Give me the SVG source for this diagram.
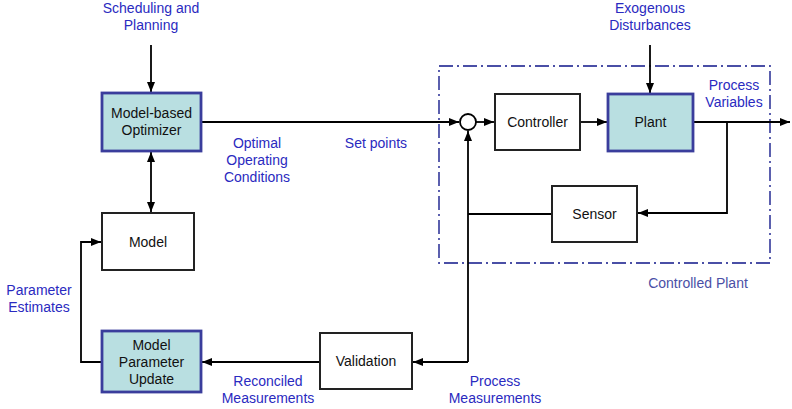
<svg xmlns="http://www.w3.org/2000/svg" width="792" height="409" viewBox="0 0 792 409">
<defs>
<marker id="ah" viewBox="0 0 10 8" refX="10" refY="4" markerWidth="10" markerHeight="8" markerUnits="userSpaceOnUse" orient="auto-start-reverse">
<path d="M0,0 L10,4 L0,8 Z" fill="#000"/>
</marker>
<style>
.blk{fill:#fff;stroke:#222;stroke-width:2}
.hl{fill:#b9dfe1;stroke:#3a3d9c;stroke-width:2.8}
.t{font-family:"Liberation Sans",Arial,sans-serif;font-size:14px;fill:#111;text-anchor:middle}
.lb{font-family:"Liberation Sans",Arial,sans-serif;font-size:14px;fill:#2a2ac0;text-anchor:middle}
.ln{fill:none;stroke:#000;stroke-width:1.8}
</style>
</defs>
<rect width="792" height="409" fill="#fff"/>
<g id="controlled-plant">
<rect x="439" y="66" width="331" height="197" fill="none" stroke="#4a4fa6" stroke-width="1.8" stroke-dasharray="14,4,2,4"/>
<text class="lb" x="698" y="288" style="fill:#4a4fa6">Controlled Plant</text>
</g>
<g id="connectors">
<path class="ln" d="M151,45 V92" marker-end="url(#ah)"/>
<path class="ln" d="M151,152 V212" marker-start="url(#ah)" marker-end="url(#ah)"/>
<path class="ln" d="M201,122 H459" marker-end="url(#ah)"/>
<path class="ln" d="M476,122 H494" marker-end="url(#ah)"/>
<path class="ln" d="M580,122 H607" marker-end="url(#ah)"/>
<path class="ln" d="M650,45 V93" marker-end="url(#ah)"/>
<path class="ln" d="M693,122 H790" marker-end="url(#ah)"/>
<path class="ln" d="M727,122 V213 H638" marker-end="url(#ah)"/>
<path class="ln" d="M552,214 H468"/>
<path class="ln" d="M468,362 V131" marker-end="url(#ah)"/>
<path class="ln" d="M468,362 H413" marker-end="url(#ah)"/>
<path class="ln" d="M320,362 H202" marker-end="url(#ah)"/>
<path class="ln" d="M102,362 H81 V242 H101" marker-end="url(#ah)"/>
</g>
<g id="sum">
<circle cx="468" cy="122" r="8" fill="#fff" stroke="#000" stroke-width="1.8"/>
</g>
<g id="optimizer">
<rect class="hl" x="102" y="93" width="99" height="58"/>
<text class="t" x="151.5" y="118">Model-based</text>
<text class="t" x="151.5" y="135">Optimizer</text>
</g>
<g id="model">
<rect class="blk" x="102" y="213" width="92" height="57"/>
<text class="t" x="148" y="247">Model</text>
</g>
<g id="mpu">
<rect class="hl" x="102" y="331" width="99" height="61"/>
<text class="t" x="151.5" y="350">Model</text>
<text class="t" x="151.5" y="367">Parameter</text>
<text class="t" x="151.5" y="384">Update</text>
</g>
<g id="validation">
<rect class="blk" x="320" y="333" width="92" height="56"/>
<text class="t" x="366" y="366">Validation</text>
</g>
<g id="controller">
<rect class="blk" x="495" y="94" width="85" height="56"/>
<text class="t" x="537.5" y="127">Controller</text>
</g>
<g id="plant">
<rect class="hl" x="608" y="94" width="85" height="57"/>
<text class="t" x="650.5" y="127">Plant</text>
</g>
<g id="sensor">
<rect class="blk" x="552" y="186" width="85" height="56"/>
<text class="t" x="594.5" y="219">Sensor</text>
</g>
<g id="labels">
<text class="lb" x="151" y="13">Scheduling and</text>
<text class="lb" x="151" y="30">Planning</text>
<text class="lb" x="650" y="13">Exogenous</text>
<text class="lb" x="650" y="30">Disturbances</text>
<text class="lb" x="734" y="90">Process</text>
<text class="lb" x="734" y="107">Variables</text>
<text class="lb" x="257" y="148">Optimal</text>
<text class="lb" x="257" y="165">Operating</text>
<text class="lb" x="257" y="182">Conditions</text>
<text class="lb" x="376" y="148">Set points</text>
<text class="lb" x="39" y="295">Parameter</text>
<text class="lb" x="39" y="312">Estimates</text>
<text class="lb" x="268" y="386">Reconciled</text>
<text class="lb" x="268" y="403">Measurements</text>
<text class="lb" x="495" y="386">Process</text>
<text class="lb" x="495" y="403">Measurements</text>
</g>
</svg>
